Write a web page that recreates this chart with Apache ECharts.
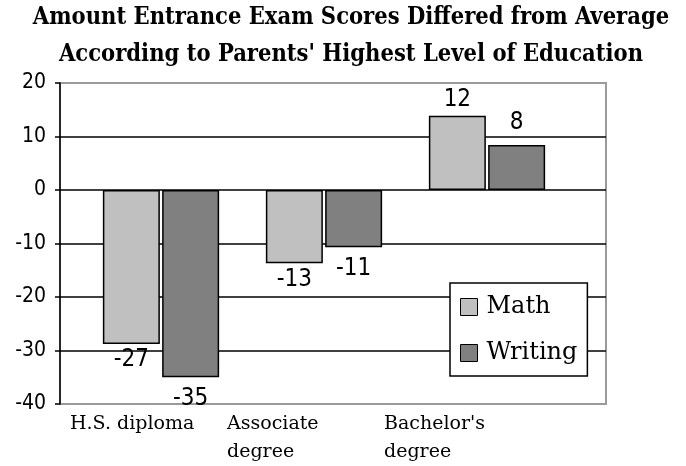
<html>
<head>
  <meta charset="utf-8">
  <title>Entrance exam scores</title>
  <script src="https://cdn.jsdelivr.net/npm/echarts@6/dist/echarts.min.js"></script>
  <style>
    body { margin: 0; background: #fff; }
    #chart { width: 686px; height: 466px; }
  </style>
</head>
<body>
  <div id="chart"></div>
<script>
  // values (bar heights as drawn, labels as printed)
  var categories = ['H.S. diploma', 'Associate\ndegree', "Bachelor's\ndegree"];
  var mathBars = [-28.8, -13.7, 13.9];
  var writingBars = [-35, -10.7, 8.4];
  var mathLabels = ['-27', '-13', '12'];
  var writingLabels = ['-35', '-11', '8'];
  var yTicks = [-40, -30, -20, -10, 0, 10, 20];

  var sans = '"DejaVu Sans Condensed", "DejaVu Sans", sans-serif';
  var serif = '"DejaVu Serif", serif';
  var border = '#9a9a9a';

  var plot = echarts.init(document.getElementById('chart'));

  function yAxisFor(gridIndex, visible) {
    return {
      type: 'value',
      gridIndex: gridIndex,
      min: yTicks[0],
      max: yTicks[yTicks.length - 1],
      interval: 10,
      show: visible,
      axisLine: { show: true, lineStyle: { color: '#000', width: 1.5 } },
      axisTick: { show: true, inside: false, length: 5, lineStyle: { color: '#000', width: 1.5 } },
      axisLabel: { color: '#000', fontFamily: sans, fontSize: 21, margin: 14 },
      splitLine: {
        show: visible,
        lineStyle: { color: [border, '#000', '#000', '#000', '#000', '#000', border], width: 1.5 }
      }
    };
  }

  option = {
    animation: false,
    backgroundColor: '#fff',
    title: {
      text: 'Amount Entrance Exam Scores Differed from Average\nAccording to Parents\' Highest Level of Education',
      left: 351,
      top: -1,
      padding: 0,
      textAlign: 'center',
      textStyle: {
        fontFamily: '"DejaVu Serif Condensed", "DejaVu Serif", serif',
        fontWeight: 'bold',
        fontSize: 23.5,
        lineHeight: 37,
        color: '#000'
      }
    },
    legend: {
      orient: 'vertical',
      left: 450,
      top: 283,
      z: 10,
      backgroundColor: '#fff',
      borderColor: '#000',
      borderWidth: 1.5,
      borderRadius: 0,
      padding: [12, 10, 11, 10],
      itemWidth: 17,
      itemHeight: 17,
      itemGap: 22,
      icon: 'rect',
      itemStyle: { borderColor: '#000', borderWidth: 1 },
      textStyle: { fontFamily: serif, fontSize: 24, color: '#000', padding: [0, 0, 0, 4] },
      data: ['Math', 'Writing']
    },
    grid: [
      { left: 60, right: 80, top: 83, bottom: 62, show: true, borderColor: border, borderWidth: 2 },
      { left: 79.5, width: 489, top: 83, bottom: 62 },
      { left: 70, width: 314, top: 83, bottom: 62 }
    ],
    xAxis: [
      { type: 'category', gridIndex: 0, data: categories, show: false },
      { type: 'category', gridIndex: 1, data: categories, show: false },
      {
        type: 'category',
        gridIndex: 2,
        data: categories,
        boundaryGap: false,
        axisLine: { show: false },
        axisTick: { show: false },
        axisLabel: {
          interval: 0,
          align: 'left',
          margin: 9,
          color: '#000',
          fontFamily: serif,
          fontSize: 19,
          lineHeight: 28
        }
      }
    ],
    yAxis: [yAxisFor(0, true), yAxisFor(1, false), yAxisFor(2, false)],
    series: [
      {
        name: 'Math',
        type: 'bar',
        xAxisIndex: 1,
        yAxisIndex: 1,
        data: mathBars,
        barWidth: 57,
        barGap: '4%',
        itemStyle: { color: '#c0c0c0', borderColor: '#000', borderWidth: 1.5 },
        label: {
          show: true,
          position: 'outside',
          distance: 4,
          color: '#000',
          fontFamily: sans,
          fontSize: 24,
          formatter: function (p) { return mathLabels[p.dataIndex]; }
        }
      },
      {
        name: 'Writing',
        type: 'bar',
        xAxisIndex: 1,
        yAxisIndex: 1,
        data: writingBars,
        barWidth: 57,
        barGap: '4%',
        itemStyle: { color: '#808080', borderColor: '#000', borderWidth: 1.5 },
        label: {
          show: true,
          position: 'outside',
          distance: 10,
          color: '#000',
          fontFamily: sans,
          fontSize: 24,
          formatter: function (p) { return writingLabels[p.dataIndex]; }
        }
      }
    ]
  };
  plot.setOption(option = option)
</script>
</body>
</html>
